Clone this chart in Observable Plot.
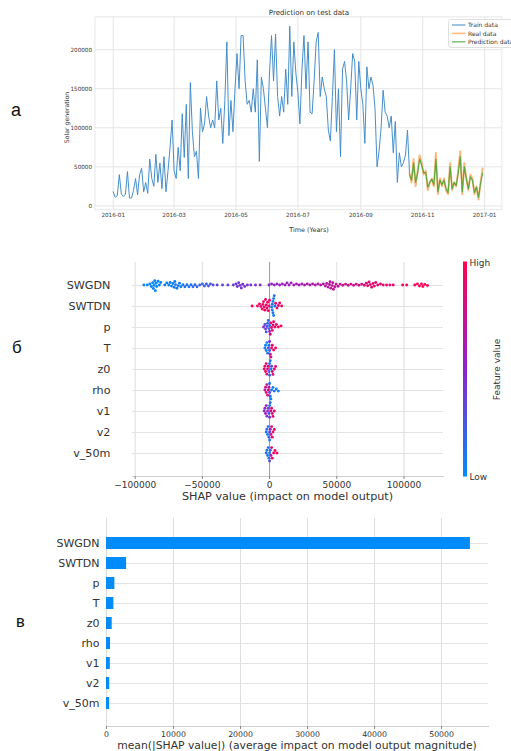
<!DOCTYPE html>
<html><head><meta charset="utf-8">
<script src="https://cdn.jsdelivr.net/npm/d3@7"></script>
<script src="https://cdn.jsdelivr.net/npm/@observablehq/plot@0.6"></script>
<style>
html,body{margin:0;padding:0;background:#fff;overflow:hidden;width:511px;height:751px;}
#root{position:relative;width:511px;height:751px;overflow:hidden;font-family:"DejaVu Sans",sans-serif;}
</style></head>
<body><div id="root"></div>
<script>
// ---------------- DATA ----------------
// Panel a: daily solar generation sampled every 2 days
const trainStart = "2016-01-01";
const testStart = "2016-10-19";
const stepDays = 2;
const trainValues = [
  18000, 11000, 13000, 40000, 15000, 12000, 15000, 44000, 10000, 10000, 20000, 35000, 14000, 40000, 48000, 18000,
  30000, 16000, 60000, 35000, 25000, 66000, 30000, 55000, 22000, 63000, 18000, 45000, 75000, 110000,
  45000, 35000, 75000, 45000, 118000, 62000, 130000, 35000, 158000, 95000, 63000, 70000, 35000, 125000, 95000, 105000,
  140000, 115000, 100000, 110000, 100000, 160000, 110000, 125000, 80000, 135000, 210000, 90000, 135000, 95000, 150000,
  195000, 150000, 218000, 218000, 160000, 130000, 135000, 120000, 150000, 120000, 187000, 57000, 165000, 150000, 125000,
  100000, 170000, 218000, 160000, 220000, 140000, 115000, 140000, 120000, 175000, 130000, 230000, 140000, 210000, 170000,
  145000, 105000, 175000, 218000, 150000, 210000, 120000, 118000, 160000, 210000, 222000, 140000, 165000, 150000, 140000, 97000,
  83000, 140000, 200000, 95000, 150000, 63000, 175000, 185000, 160000, 110000, 150000, 195000, 185000, 110000, 185000,
  150000, 130000, 80000, 178000, 150000, 165000, 155000, 125000, 50000, 70000, 100000, 148000, 120000, 115000, 100000,
  115000, 68000, 108000, 30000, 68000, 50000, 55000, 65000, 97000, 42000
];
const realValues = [
  42000, 30000, 60000, 25000, 45000, 65000, 55000, 40000, 45000, 20000,
  30000, 35000, 25000, 68000, 15000, 35000, 25000, 35000, 20000, 15000,
  55000, 20000, 30000, 25000, 45000, 70000, 15000, 55000, 35000, 20000,
  40000, 35000, 15000, 25000, 8000, 30000, 48000
];
const predValues = [
  40000, 33000, 55000, 30000, 42000, 60000, 52000, 42000, 43000, 24000,
  30000, 34000, 27000, 60000, 18000, 33000, 27000, 33000, 22000, 17000,
  50000, 22000, 30000, 26000, 42000, 63000, 18000, 50000, 35000, 22000,
  37000, 33000, 17000, 24000, 11000, 28000, 42000
];
const timeTicks = ["2016-01", "2016-03", "2016-05", "2016-07", "2016-09", "2016-11", "2017-01"];
const genTicks = [0, 50000, 100000, 150000, 200000];
const seriesNames = ["Train data", "Real data", "Prediction data"];

// Panels б, в: features
const features = ["SWGDN", "SWTDN", "p", "T", "z0", "rho", "v1", "v2", "v_50m"];
// [SHAP value, normalized feature value]
const shapSWGDN = [
  [-93500,0.02],[-91000,0.03],[-89000,0.02],[-88000,0.03],[-87000,0.02],[-86500,0.01],[-86000,0.02],
  [-85500,0.03],[-85000,0.02],[-84500,0.01],[-84000,0.03],[-83000,0.04],[-82000,0.04],[-81000,0.05],
  [-78000,0.05],[-76500,0.06],[-75000,0.06],[-74000,0.06],[-73000,0.05],[-72000,0.06],[-71000,0.07],
  [-70500,0.06],[-70000,0.07],[-69000,0.08],[-68000,0.07],[-67000,0.08],[-66000,0.09],[-64500,0.09],
  [-63000,0.1],[-61500,0.12],[-60000,0.12],[-58500,0.14],[-57000,0.15],[-55500,0.16],[-54000,0.17],[-52000,0.18],
  [-50000,0.2],[-48500,0.22],[-47000,0.23],[-45500,0.25],[-44000,0.27],[-42000,0.29],[-39000,0.31],[-35000,0.33],[-31000,0.35],
  [-27000,0.37],[-25000,0.38],[-24000,0.39],[-23000,0.4],[-22000,0.4],[-21000,0.41],[-20000,0.41],[-18500,0.42],[-16500,0.42],[-14000,0.43],
  [-10500,0.45],[-7000,0.46],
  [-500,0.5],[1500,0.5],[3500,0.51],[5500,0.52],[7500,0.53],[9500,0.54],[11500,0.55],[13000,0.55],[14500,0.56],[16000,0.57],
  [18000,0.58],[20000,0.59],[22000,0.6],[24000,0.6],[26000,0.61],[28000,0.62],[30000,0.63],[32000,0.64],[34000,0.65],[36000,0.66],
  [38000,0.67],[40000,0.67],[41500,0.68],[42500,0.68],[43500,0.69],[44500,0.7],[45000,0.7],[45500,0.71],[46500,0.71],[47000,0.71],
  [47500,0.72],[48500,0.72],[49500,0.73],[51000,0.73],[52500,0.74],[54500,0.75],[56500,0.76],[58500,0.77],[60500,0.78],[62500,0.79],
  [64500,0.8],[66500,0.81],[68500,0.82],[70500,0.83],[72000,0.84],[73000,0.85],[74000,0.85],[75000,0.86],[76000,0.86],[77000,0.87],
  [78000,0.87],[79000,0.88],[80500,0.88],[82500,0.89],[84500,0.9],[87000,0.9],[89500,0.91],[92000,0.92],
  [99000,0.95],[102000,0.96],[108000,0.97],[110000,0.98],[111500,0.98],[113000,0.99],[114000,0.99],[115500,0.99],[117500,1.0]
];
const shapSWTDN = [
  [-13000,1],[-9000,0.95],[-7500,0.95],[-6500,0.9],[-5500,0.95],[-5000,0.9],[-4500,0.95],[-4000,0.9],[-3500,0.95],[-3000,0.9],
  [-2500,0.95],[-2000,0.9],[-1500,0.95],[-1000,0.9],[-500,0.95],[0,0.85],[1500,0.05],[2000,0.1],[2000,0.05],[2500,0.05],
  [2500,0.1],[3000,0.1],[3000,0.05],[3500,0.1],[4000,0.15],[4500,0.85],[5500,0.9],[6500,0.9],[7500,0.9],[9000,0.95]
];
const shapP = [
  [-4500,0.45],[-3500,0.3],[-3000,0.4],[-2500,0.2],[-2000,0.3],[-1500,0.2],[-1000,0.1],[-500,0.15],[0,0.1],[0,0.6],
  [500,0.8],[1000,0.9],[1500,0.85],[2000,0.9],[2500,0.95],[3000,0.9],[4000,0.95],[5000,0.9],[6500,0.95],[8500,1]
];
const shapT = [
  [-3500,0.1],[-3000,0.05],[-2500,0.1],[-2000,0.05],[-1500,0.1],[-1000,0.2],[-500,0.15],[0,0.2],[0,0.5],
  [500,0.7],[1000,0.85],[1500,0.9],[2000,0.95],[3000,0.95],[4500,1]
];
const shapZ0 = [
  [-4000,0.95],[-3500,0.9],[-3000,0.95],[-2500,0.85],[-2000,0.9],[-1500,0.8],[-1000,0.9],[-500,0.2],[0,0.1],[0,0.15],
  [500,0.1],[1000,0.05],[1500,0.3],[2000,0.8],[2500,0.9],[3500,0.95],[4500,0.9]
];
const shapRho = [
  [-3500,0.7],[-3000,0.8],[-2500,0.9],[-2000,0.7],[-1500,0.85],[-1000,0.9],[-500,0.6],[0,0.3],[0,0.1],[500,0.1],
  [1000,0.05],[1500,0.1],[2500,0.05],[3500,0.1],[5000,0.05],[6500,0.05]
];
const shapV1 = [
  [-4000,0.55],[-3500,0.5],[-3000,0.6],[-2500,0.5],[-2000,0.45],[-1500,0.55],[-1000,0.3],[-500,0.2],[0,0.1],[0,0.4],
  [500,0.15],[1000,0.8],[1500,0.9],[2000,0.85],[2500,0.95],[3500,0.9]
];
const shapV2 = [
  [-2500,0.1],[-2000,0.15],[-1500,0.05],[-1000,0.1],[-500,0.2],[0,0.3],[0,0.1],[500,0.6],[1000,0.85],[1500,0.9],
  [2000,0.95],[2500,0.9],[3500,0.95]
];
const shapV50m = [
  [-2500,0.2],[-2000,0.1],[-1500,0.05],[-1000,0.1],[-500,0.15],[0,0.1],[0,0.3],[500,0.2],[1000,0.7],[1500,0.85],
  [2000,0.9],[3000,0.95],[4000,0.9],[5500,1]
];
const shapTicks = [-100000, -50000, 0, 50000, 100000];
const meanAbsShap = [54300, 3000, 1250, 1100, 850, 600, 570, 480, 460];
const barTicks = [0, 10000, 20000, 30000, 40000, 50000];

// ---------------- COLORS ----------------
const shapBlue = "#008bfb", shapPurple = "#8e22cc", shapRed = "#ff0052";

// ---------------- BUILD TABLES ----------------
const t0 = new Date(trainStart + "T00:00:00Z");
const t1 = new Date(testStart + "T00:00:00Z");
const train = trainValues.map((v, i) => ({date: d3.utcDay.offset(t0, i * stepDays), value: v}));
const real = realValues.map((v, i) => ({date: d3.utcDay.offset(t1, i * stepDays), value: v}));
const pred = predValues.map((v, i) => ({date: d3.utcDay.offset(t1, i * stepDays), value: v}));
const tickDates = timeTicks.map(s => new Date(s + "-01T00:00:00Z"));

const shapSets = [shapSWGDN, shapSWTDN, shapP, shapT, shapZ0, shapRho, shapV1, shapV2, shapV50m];
const swarm = features.flatMap((f, k) => shapSets[k].map(([s, v]) => ({feature: f, shap: s, fv: v})));
const bars = features.map((f, k) => ({feature: f, value: meanAbsShap[k]}));

const root = document.getElementById("root");
function place(node, left, top) {
  node.style.position = "absolute";
  node.style.left = left + "px";
  node.style.top = top + "px";
  root.appendChild(node);
  return node;
}
const minusFmt = d => d < 0 ? "\u2212" + Math.abs(d) : String(d);

// ---------------- PANEL а ----------------
const topPlot = Plot.plot({
  width: 530, height: 240,
  marginLeft: 98, marginRight: 10, marginTop: 17, marginBottom: 23,
  x: {type: "utc", domain: [new Date("2015-12-14T00:00:00Z"), new Date("2017-01-18T00:00:00Z")]},
  y: {domain: [-4900, 242000]},
  style: {fontFamily: "DejaVu Sans", fontSize: "5.9px", color: "#3a3a3a", background: "transparent"},
  marks: [
    Plot.gridX(tickDates, {stroke: "#e4e4e4", strokeOpacity: 1, strokeWidth: 1}),
    Plot.gridY(genTicks, {stroke: "#e4e4e4", strokeOpacity: 1, strokeWidth: 1}),
    Plot.frame({stroke: "#e6e6e6"}),
    Plot.axisX(tickDates, {tickSize: 0, tickPadding: 3, tickFormat: d3.utcFormat("%Y-%m"), label: null}),
    Plot.axisY(genTicks, {tickSize: 0, tickPadding: 3, tickFormat: d => String(d), label: null}),
    Plot.line(train, {x: "date", y: "value", stroke: "#3f8ac6", strokeWidth: 1}),
    Plot.line(real, {x: "date", y: "value", stroke: "#ff7f0e", strokeOpacity: 0.55, strokeWidth: 2}),
    Plot.line(pred, {x: "date", y: "value", stroke: "#2ca02c", strokeOpacity: 0.75, strokeWidth: 1.3})
  ]
});
place(topPlot, 0, 0);

// ---------------- PANEL б ----------------
const midW = 511, midH = 260;
const midBack = Plot.plot({
  width: midW, height: midH,
  marginLeft: 132, marginRight: 68, marginTop: 12, marginBottom: 34,
  x: {domain: [-102000, 129400]},
  y: {type: "point", domain: features, range: [33, 204.5], padding: 0},
  style: {fontFamily: "DejaVu Sans", fontSize: "9px", color: "#333", background: "transparent"},
  marks: [
    Plot.ruleX(shapTicks.filter(d => d !== 0), {stroke: "#dddddd", strokeWidth: 1}),
    Plot.ruleY(features, {y: d => d, stroke: "#e2e2e2", strokeWidth: 1}),
    Plot.ruleX([0], {stroke: "#9a9a9a", strokeWidth: 1}),
    Plot.frame({anchor: "bottom", stroke: "#cfcfcf"}),
    Plot.axisX(shapTicks, {tickSize: 3, tickPadding: 2, tickFormat: minusFmt, label: null, stroke: "#888"}),
    Plot.axisY(features, {tickSize: 0, tickPadding: 22, fontSize: 11.2, label: null})
  ]
});
place(midBack, 0, 250);

const midDots = Plot.plot({
  width: midW, height: midH,
  marginLeft: 132, marginRight: 68, marginTop: 22.3, marginBottom: midH - 214.7,
  x: {domain: [-102000, 129400], axis: null},
  fy: {domain: features, padding: 0, axis: null},
  color: {type: "linear", domain: [0, 0.5, 1], range: [shapBlue, shapPurple, shapRed], interpolate: "rgb"},
  style: {background: "transparent"},
  marks: [
    Plot.dot(swarm, Plot.dodgeY({anchor: "middle", padding: 0}, {x: "shap", fy: "feature", r: 1.45, fill: "fv", stroke: null}))
  ]
});
place(midDots, 0, 250);

// ---------------- PANEL в ----------------
const botPlot = Plot.plot({
  width: 511, height: 236,
  marginLeft: 106, marginRight: 23, marginTop: 3, marginBottom: 25,
  x: {domain: [0, 57000]},
  y: {type: "band", domain: features, range: [14.6, 201.4], paddingInner: 0.38, paddingOuter: 0.19},
  style: {fontFamily: "DejaVu Sans", fontSize: "7.8px", color: "#333", background: "transparent"},
  marks: [
    Plot.ruleX(barTicks, {stroke: "#dddddd", strokeWidth: 1}),
    Plot.ruleY(features, {y: d => d, stroke: "#e2e2e2", strokeWidth: 1}),
    Plot.barX(bars, {x: "value", y: "feature", fill: shapBlue}),
    Plot.frame({anchor: "bottom", stroke: "#cfcfcf"}),
    Plot.axisX(barTicks, {tickSize: 3, tickPadding: 2, tickFormat: d => String(d), label: null, stroke: "#888"}),
    Plot.axisY(features, {tickSize: 0, tickPadding: 7, fontSize: 11, label: null})
  ]
});
place(botPlot, 0, 515);

// ---------------- OVERLAY TEXT, LEGEND, COLORBAR ----------------
const ov = d3.create("svg").attr("width", 511).attr("height", 751)
  .style("position", "absolute").style("left", "0px").style("top", "0px")
  .style("font-family", "DejaVu Sans, sans-serif");

// panel a texts
ov.append("text").attr("x", 309).attr("y", 14.8).attr("text-anchor", "middle")
  .attr("font-size", 7.1).attr("fill", "#333").text("Prediction on test data");
ov.append("text").attr("x", 309).attr("y", 231.5).attr("text-anchor", "middle")
  .attr("font-size", 6.4).attr("fill", "#333").text("Time (Years)");
ov.append("text").attr("transform", "translate(68.5,117.5) rotate(-90)").attr("text-anchor", "middle")
  .attr("font-size", 6.2).attr("fill", "#333").text("Solar generation");

// legend
ov.append("rect").attr("x", 448.5).attr("y", 19.5).attr("width", 75).attr("height", 28).attr("rx", 2)
  .attr("fill", "#fff").attr("fill-opacity", 0.85).attr("stroke", "#e0e0e0");
const legColors = [["#3f8ac6", 1, 1], ["#ff7f0e", 0.55, 1.6], ["#2ca02c", 0.6, 1.6]];
seriesNames.forEach((name, i) => {
  const y = 25 + i * 8.4;
  ov.append("line").attr("x1", 452).attr("x2", 465.5).attr("y1", y).attr("y2", y)
    .attr("stroke", legColors[i][0]).attr("stroke-opacity", legColors[i][1]).attr("stroke-width", legColors[i][2]);
  ov.append("text").attr("x", 468).attr("y", y + 2.2).attr("font-size", 6).attr("fill", "#333").text(name);
});

// panel б texts
ov.append("text").attr("x", 287.5).attr("y", 500).attr("text-anchor", "middle")
  .attr("font-size", 11.2).attr("fill", "#333").text("SHAP value (impact on model output)");
const grad = ov.append("defs").append("linearGradient").attr("id", "cbar")
  .attr("x1", 0).attr("y1", 1).attr("x2", 0).attr("y2", 0);
grad.append("stop").attr("offset", "0%").attr("stop-color", shapBlue);
grad.append("stop").attr("offset", "50%").attr("stop-color", shapPurple);
grad.append("stop").attr("offset", "100%").attr("stop-color", shapRed);
ov.append("rect").attr("x", 463).attr("y", 261.5).attr("width", 4).attr("height", 215).attr("fill", "url(#cbar)");
ov.append("text").attr("x", 469.5).attr("y", 265.5).attr("font-size", 9).attr("fill", "#333").text("High");
ov.append("text").attr("x", 469.5).attr("y", 479.5).attr("font-size", 9).attr("fill", "#333").text("Low");
ov.append("text").attr("transform", "translate(500,369.5) rotate(-90)").attr("text-anchor", "middle")
  .attr("font-size", 9).attr("fill", "#333").text("Feature value");

// panel в text
ov.append("text").attr("x", 297).attr("y", 749).attr("text-anchor", "middle")
  .attr("font-size", 10.8).attr("fill", "#333").text("mean(|SHAP value|) (average impact on model output magnitude)");

// panel letters
ov.append("text").attr("x", 11).attr("y", 115.5).attr("font-size", 18).attr("font-family", "Liberation Sans, Arial, sans-serif").attr("fill", "#111").text("а");
ov.append("text").attr("x", 12).attr("y", 352.5).attr("font-size", 17).attr("font-family", "Liberation Sans, Arial, sans-serif").attr("fill", "#111").text("б");
ov.append("text").attr("x", 16).attr("y", 627).attr("font-size", 16.5).attr("font-family", "Liberation Sans, Arial, sans-serif").attr("fill", "#111").text("в");

root.appendChild(ov.node());
</script>
</body></html>
